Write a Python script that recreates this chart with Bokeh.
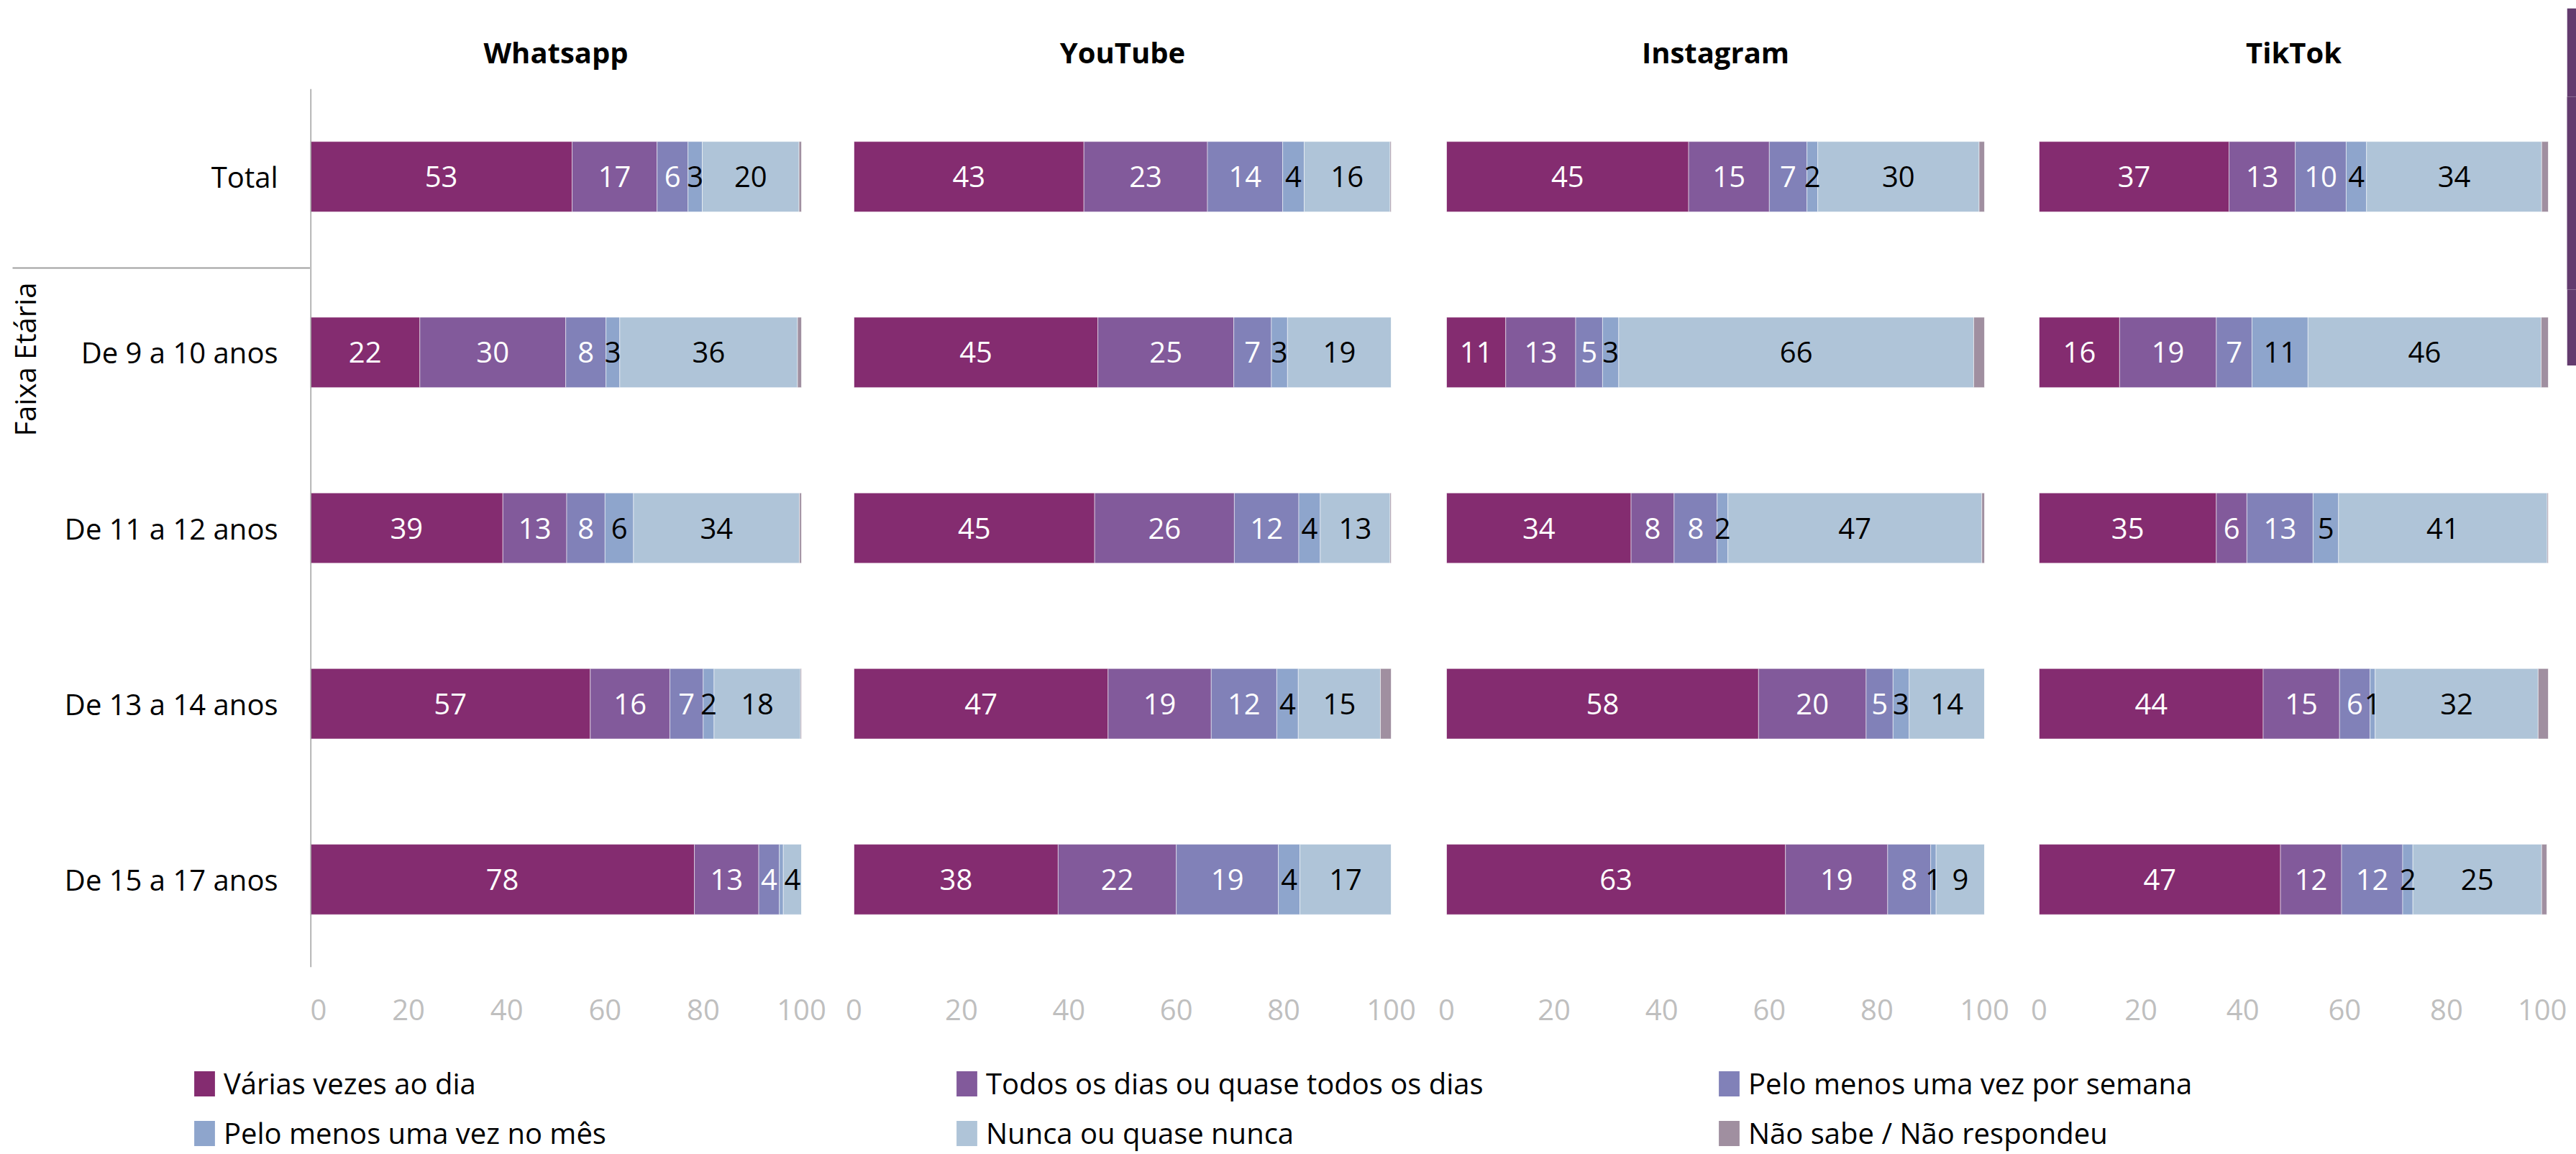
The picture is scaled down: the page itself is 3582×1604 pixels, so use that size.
from bokeh.plotting import figure
from bokeh.models import (FactorRange, Range1d, ColumnDataSource, Span, Legend,
                          LegendItem, FixedTicker)
from bokeh.layouts import row, column
from bokeh.embed import file_html
from bokeh.resources import INLINE
from bokeh.core.properties import value

FONT = "Open Sans"

# ---------------- data ----------------
ROWS = ["Total", "De 9 a 10 anos", "De 11 a 12 anos", "De 13 a 14 anos", "De 15 a 17 anos"]
SERIES = ["Várias vezes ao dia", "Todos os dias ou quase todos os dias",
          "Pelo menos uma vez por semana", "Pelo menos uma vez no mês",
          "Nunca ou quase nunca", "Não sabe / Não respondeu"]
PLATFORMS = ["Whatsapp", "YouTube", "Instagram", "TikTok"]
TICKS = [0, 20, 40, 60, 80, 100]
AXIS_TITLE = "Faixa Etária"

# Whatsapp (one list per series, in ROWS order)
WA_VARIAS = [53.3, 22.3, 39.2, 57.0, 78.2]
WA_TODOS = [17.3, 29.7, 13.0, 16.2, 13.1]
WA_SEMANA = [6.3, 8.2, 7.8, 6.8, 4.2]
WA_MES = [2.9, 2.8, 5.8, 2.2, 0.8]
WA_NUNCA = [19.7, 36.2, 33.8, 17.6, 3.7]
WA_NS = [0.5, 0.8, 0.4, 0.2, 0.0]

# YouTube
YT_VARIAS = [42.8, 45.4, 44.8, 47.3, 38.0]
YT_TODOS = [23.0, 25.3, 26.0, 19.2, 22.0]
YT_SEMANA = [14.0, 7.0, 12.0, 12.2, 19.0]
YT_MES = [4.0, 3.0, 4.0, 4.0, 4.0]
YT_NUNCA = [16.0, 19.3, 13.0, 15.3, 17.0]
YT_NS = [0.2, 0.0, 0.2, 2.0, 0.0]

# Instagram
IG_VARIAS = [45.0, 11.0, 34.3, 58.0, 63.0]
IG_TODOS = [15.0, 13.0, 8.0, 20.0, 19.0]
IG_SEMANA = [7.0, 5.0, 8.0, 5.0, 8.0]
IG_MES = [2.0, 3.0, 2.0, 3.0, 1.0]
IG_NUNCA = [30.0, 66.0, 47.2, 14.0, 9.0]
IG_NS = [1.0, 2.0, 0.5, 0.0, 0.0]

# TikTok
TT_VARIAS = [37.3, 15.8, 34.8, 44.0, 47.4]
TT_TODOS = [13.0, 19.0, 6.0, 15.0, 12.0]
TT_SEMANA = [10.0, 7.0, 13.0, 6.0, 12.0]
TT_MES = [4.0, 11.0, 5.0, 1.0, 2.0]
TT_NUNCA = [34.4, 45.8, 41.0, 32.0, 25.3]
TT_NS = [1.3, 1.4, 0.3, 2.0, 1.0]

DATA = {
    "Whatsapp": [WA_VARIAS, WA_TODOS, WA_SEMANA, WA_MES, WA_NUNCA, WA_NS],
    "YouTube": [YT_VARIAS, YT_TODOS, YT_SEMANA, YT_MES, YT_NUNCA, YT_NS],
    "Instagram": [IG_VARIAS, IG_TODOS, IG_SEMANA, IG_MES, IG_NUNCA, IG_NS],
    "TikTok": [TT_VARIAS, TT_TODOS, TT_SEMANA, TT_MES, TT_NUNCA, TT_NS],
}

# ---------------- style ----------------
COLORS = ["#842C70", "#825A9B", "#8181B8", "#8EA5CC", "#AFC4D8", "#A08FA0"]
LABEL_COLORS = ["white", "white", "white", "black", "black", None]
AXIS_GRAY = "#A0A0A0"
TICK_GRAY = "#BFBFBF"
STRIP = "#633B6E"

FIG_H = 1450
TOP = 123
BOTTOM = 106
FS = "40px"

y_range = FactorRange(factors=list(reversed(ROWS)), range_padding=0)

# panel geometry: (border_left, frame_width, border_right, title_offset)
GEOM = {
    "Whatsapp": (0, 683, 40, 0),
    "YouTube": (33, 747, 40, -4),
    "Instagram": (37, 748, 38, 0),
    "TikTok": (38, 708, 26, -34),
}


def make_panel(name):
    bl, fw, br, toff = GEOM[name]
    p = figure(width=bl + fw + br, height=FIG_H, x_range=Range1d(0, 100), y_range=y_range,
               min_border_left=bl, min_border_right=br, min_border_top=TOP,
               min_border_bottom=BOTTOM, y_axis_location=None, toolbar_location=None,
               output_backend="svg", outline_line_color=None, title=name)
    p.grid.visible = False
    p.title.align = "center"
    p.title.offset = toff
    p.title.text_font = FONT
    p.title.text_font_style = "bold"
    p.title.text_font_size = FS
    p.title.text_color = "black"
    p.title.standoff = 47
    ax = p.xaxis[0]
    ax.ticker = FixedTicker(ticks=TICKS)
    ax.axis_line_color = None
    ax.major_tick_line_color = None
    ax.minor_tick_line_color = None
    ax.major_label_text_color = TICK_GRAY
    ax.major_label_text_font = FONT
    ax.major_label_text_font_size = FS
    ax.major_label_standoff = 38

    vals = DATA[name]
    left = [0.0] * len(ROWS)
    lx, ly, lt, lc = [], [], [], []
    for i, s in enumerate(SERIES):
        right = [a + b for a, b in zip(left, vals[i])]
        src = ColumnDataSource(dict(y=ROWS, left=left, right=right))
        p.hbar(y="y", left="left", right="right", height=0.4, source=src,
               fill_color=COLORS[i], line_color="white", line_width=1, line_alpha=0.5)
        if LABEL_COLORS[i] is not None:
            for r, (a, b, v) in enumerate(zip(left, right, vals[i])):
                if v >= 1:
                    lx.append((a + b) / 2)
                    ly.append(ROWS[r])
                    lt.append(str(int(round(v))))
                    lc.append(LABEL_COLORS[i])
        left = right
    tsrc = ColumnDataSource(dict(x=lx, y=ly, t=lt, c=lc))
    p.text(x="x", y="y", text="t", text_color="c", source=tsrc, text_align="center",
           text_baseline="middle", text_font=value(FONT), text_font_size=FS)
    if name == "Whatsapp":
        p.add_layout(Span(location=0, dimension="height", line_color=AXIS_GRAY, line_width=3))
    return p


# left label area
LW = 431
left_fig = figure(width=LW, height=FIG_H, x_range=Range1d(0, LW), y_range=y_range,
                  min_border_left=0, min_border_right=0, min_border_top=TOP,
                  min_border_bottom=BOTTOM, x_axis_location=None, y_axis_location=None,
                  toolbar_location=None, output_backend="svg", outline_line_color=None)
left_fig.grid.visible = False
left_fig.text(x=[386] * len(ROWS), y=ROWS, text=ROWS, text_align="right", text_baseline="middle",
              text_font=value(FONT), text_font_size=FS, text_color="black")
left_fig.text(x=[34], y=[(ROWS[1], -0.04)], text=[AXIS_TITLE], angle=1.5708,
              text_align="center", text_baseline="middle", text_font=value(FONT),
              text_font_size=FS, text_color="black")
left_fig.segment(x0=[17], x1=[LW], y0=[(ROWS[0], -0.52)], y1=[(ROWS[0], -0.52)],
                 line_color=AXIS_GRAY, line_width=2)

panels = [make_panel(n) for n in PLATFORMS]

strip = figure(width=13, height=497, margin=(11, 0, 0, 0), min_border=0,
               min_border_left=0, min_border_right=0, min_border_top=0, min_border_bottom=0,
               toolbar_location=None, x_axis_location=None, y_axis_location=None,
               output_backend="svg", outline_line_color=None,
               background_fill_color=STRIP, border_fill_color=STRIP)
strip.grid.visible = False

# legend figure
LEG_H = 1604 - FIG_H
leg = figure(width=3582, height=LEG_H, x_range=Range1d(0, 1), y_range=Range1d(0, 1),
             min_border=0, toolbar_location=None, x_axis_location=None,
             y_axis_location=None, output_backend="svg", outline_line_color=None)
leg.grid.visible = False
rends = []
for i, s in enumerate(SERIES):
    rends.append(leg.rect(x=[-5], y=[-5], width=[1], height=[1], fill_color=COLORS[i],
                          line_color=None))


def add_legend(idx, y):
    lg = Legend(items=[LegendItem(label=SERIES[i], renderers=[rends[i]]) for i in idx],
                orientation="horizontal", location=(266, y), padding=0, margin=0, spacing=0,
                glyph_width=36, glyph_height=44, label_standoff=9, label_width=1015,
                label_text_font=FONT, label_text_font_size=FS, label_text_color="black",
                border_line_color=None, background_fill_alpha=0)
    leg.add_layout(lg, "center")


add_legend([0, 1, 2], 71)
add_legend([3, 4, 5], 2)

layout = column(row(left_fig, *panels, strip), leg)
open("out.html", "w").write(file_html(layout, INLINE))
